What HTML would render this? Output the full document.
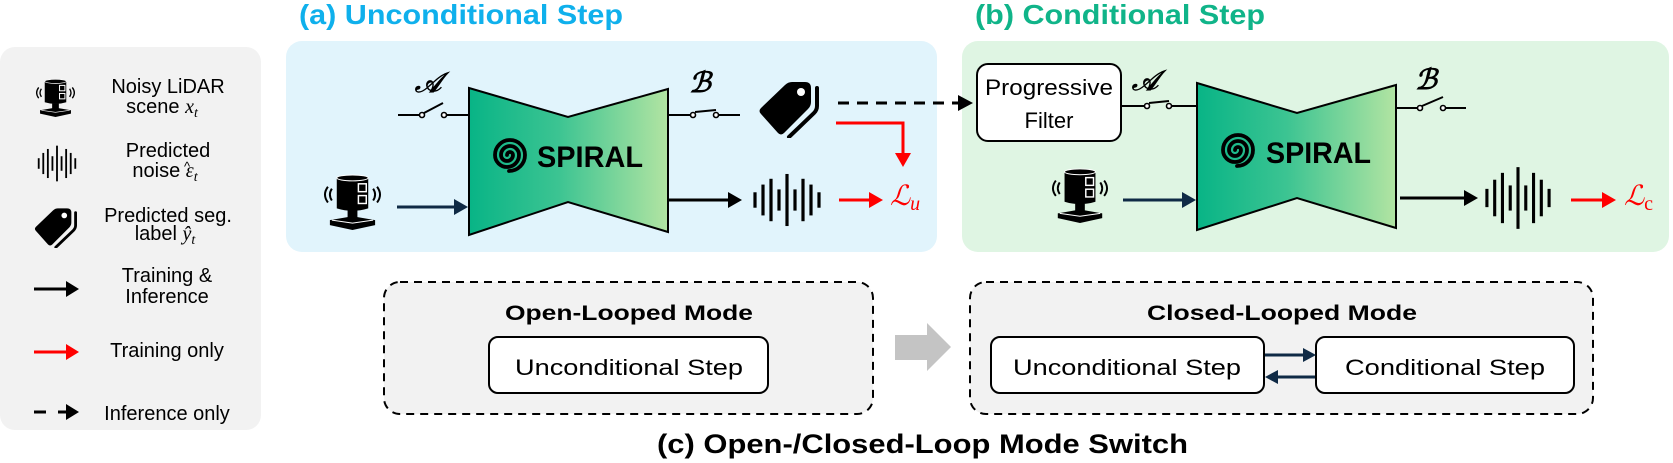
<!DOCTYPE html>
<html><head><meta charset="utf-8"><style>
html,body{margin:0;padding:0;background:#fff;}
svg{display:block;}
text{font-family:"Liberation Sans",sans-serif;}
.m{font-family:"Liberation Serif","DejaVu Serif",serif;font-style:italic;}
</style></head><body>
<svg width="1673" height="463" viewBox="0 0 1673 463" xmlns="http://www.w3.org/2000/svg">
<defs>
<linearGradient id="g" x1="0" y1="0" x2="1" y2="0">
<stop offset="0" stop-color="#08b486"/><stop offset="0.45" stop-color="#3cc492"/><stop offset="1" stop-color="#b2e4a2"/>
</linearGradient>
<symbol id="lidar" viewBox="0 0 66 58">
<path d="M8,14 Q2,22 8,30" fill="none" stroke="#000" stroke-width="2"/>
<path d="M12,16 Q8,22 12,28" fill="none" stroke="#000" stroke-width="2"/>
<path d="M58,14 Q64,22 58,30" fill="none" stroke="#000" stroke-width="2"/>
<path d="M54,16 Q58,22 54,28" fill="none" stroke="#000" stroke-width="2"/>
<path d="M17,5 Q33,-1 49,5 L49,36 Q33,41 17,36 Z" fill="#000"/>
<ellipse cx="33" cy="5" rx="16" ry="3" fill="#000" stroke="#fff" stroke-width="1"/>
<rect x="39" y="11" width="8" height="8" fill="none" stroke="#fff" stroke-width="1.5"/>
<rect x="39" y="23" width="8" height="8" fill="none" stroke="#fff" stroke-width="1.5"/>
<rect x="28" y="38" width="10" height="8" fill="#000"/>
<path d="M10,48 L33,44 L56,48 L56,53 L33,58 L10,53 Z" fill="#000"/>
<path d="M12,48 L33,51 L54,48" fill="none" stroke="#fff" stroke-width="1"/>
</symbol>
<symbol id="noise" viewBox="0 0 70 56" preserveAspectRatio="none">
<g stroke="#000" stroke-width="3.2">
<line x1="3" y1="20" x2="3" y2="36"/><line x1="11" y1="12" x2="11" y2="44"/><line x1="19" y1="6" x2="19" y2="50"/>
<line x1="27" y1="17" x2="27" y2="39"/><line x1="35" y1="1" x2="35" y2="55"/><line x1="43" y1="17" x2="43" y2="39"/>
<line x1="51" y1="6" x2="51" y2="50"/><line x1="59" y1="12" x2="59" y2="44"/><line x1="67" y1="20" x2="67" y2="36"/>
</g></symbol>
<symbol id="tag" viewBox="0 0 66 58">
<path d="M4,34 Q1,31 4,28 L28,5 Q31,2 35,2 L48,2 Q54,2 54,8 L54,22 Q54,26 51,29 L27,53 Q24,56 21,53 Z" fill="#000"/>
<circle cx="44" cy="12" r="4" fill="#fff"/>
<path d="M60,8 L60,26 Q60,30 57,33 L32,57" fill="none" stroke="#000" stroke-width="4" stroke-linecap="round"/>
</symbol>
<symbol id="spiral" viewBox="-22 -22 44 44">
<path d="M0,0 a3,3 0 0 1 6,0 a6,6 0 0 1 -12,0 a9,9 0 0 1 18,0 a12,12 0 0 1 -24,0 a15,15 0 0 1 30,0 a16,16 0 0 1 -16,16" fill="none" stroke="#000" stroke-width="3.8" stroke-linecap="round"/>
</symbol>
</defs>

<rect x="0" y="47" width="261" height="383" rx="15" fill="#f2f2f2"/>
<use href="#lidar" x="33" y="78" width="45" height="39"/>
<use href="#noise" x="37" y="145" width="40" height="37"/>
<use href="#tag" x="33" y="207" width="47" height="41"/>
<g font-size="20" text-anchor="middle" fill="#000">
<text x="168" y="93">Noisy LiDAR</text>
<text x="162" y="113">scene <tspan class="m">x</tspan><tspan class="m" font-size="14" dy="4">t</tspan></text>
<text x="168" y="157">Predicted</text>
<text x="165" y="177">noise <tspan class="m">ε</tspan><tspan class="m" font-size="14" dy="4">t</tspan></text>
<text x="168" y="222">Predicted seg.</text>
<text x="165" y="240">label <tspan class="m">ŷ</tspan><tspan class="m" font-size="14" dy="4">t</tspan></text>
<text x="167" y="282">Training &amp;</text>
<text x="167" y="303">Inference</text>
<text x="167" y="357">Training only</text>
<text x="167" y="420">Inference only</text>
</g>
<text x="184" y="171" font-size="13" fill="#000">^</text>
<line x1="34" y1="289" x2="68" y2="289" stroke="#000" stroke-width="3"/><path d="M66,281 L79,289 L66,297 Z" fill="#000"/>
<line x1="34" y1="352" x2="68" y2="352" stroke="#ff0000" stroke-width="3"/><path d="M66,344 L79,352 L66,360 Z" fill="#ff0000"/>
<line x1="34" y1="412" x2="46" y2="412" stroke="#000" stroke-width="3"/><line x1="58" y1="412" x2="68" y2="412" stroke="#000" stroke-width="3"/><path d="M66,404 L79,412 L66,420 Z" fill="#000"/>

<text x="299" y="24" font-size="28" font-weight="bold" fill="#0fb0ec" textLength="324" lengthAdjust="spacingAndGlyphs">(a) Unconditional Step</text>
<text x="975" y="24" font-size="28" font-weight="bold" fill="#10b489" textLength="290" lengthAdjust="spacingAndGlyphs">(b) Conditional Step</text>

<rect x="286" y="41" width="651" height="211" rx="16" fill="#e1f4fc"/>
<polygon points="469,88 568,117 668,89 668,232 568,202 469,235" fill="url(#g)" stroke="#000" stroke-width="2"/>
<use href="#spiral" x="485" y="133" width="44" height="44"/>
<text x="537" y="167" font-size="30" font-weight="bold" textLength="106" lengthAdjust="spacingAndGlyphs">SPIRAL</text>
<line x1="398" y1="115" x2="420" y2="115" stroke="#000" stroke-width="2"/>
<line x1="446" y1="115" x2="469" y2="115" stroke="#000" stroke-width="2"/>
<line x1="424" y1="113" x2="443" y2="103" stroke="#000" stroke-width="2"/>
<circle cx="422" cy="115" r="2.5" fill="#fff" stroke="#000" stroke-width="1.6"/>
<circle cx="444" cy="115" r="2.5" fill="#fff" stroke="#000" stroke-width="1.6"/>
<text x="428" y="92" class="m" font-size="28" font-weight="bold" text-anchor="middle">𝒜</text>
<line x1="668" y1="115" x2="691" y2="115" stroke="#000" stroke-width="2"/>
<line x1="718" y1="115" x2="740" y2="115" stroke="#000" stroke-width="2"/>
<line x1="695" y1="112" x2="716" y2="110" stroke="#000" stroke-width="2"/>
<circle cx="693" cy="115" r="2.5" fill="#fff" stroke="#000" stroke-width="1.6"/>
<circle cx="716" cy="115" r="2.5" fill="#fff" stroke="#000" stroke-width="1.6"/>
<text x="700" y="92" class="m" font-size="28" font-weight="bold" text-anchor="middle">ℬ</text>
<use href="#tag" x="757" y="80" width="66" height="58"/>
<use href="#lidar" x="320" y="173" width="65" height="57"/>
<line x1="397" y1="207" x2="456" y2="207" stroke="#0f2a45" stroke-width="3"/><path d="M454,199 L468,207 L454,215 Z" fill="#0f2a45"/>
<line x1="668" y1="200" x2="730" y2="200" stroke="#000" stroke-width="3"/><path d="M728,192 L742,200 L728,208 Z" fill="#000"/>
<use href="#noise" x="752" y="173" width="70" height="54"/>
<polyline points="836,123 903,123 903,155" fill="none" stroke="#ff0000" stroke-width="3"/>
<path d="M895,153 L903,167 L911,153 Z" fill="#ff0000"/>
<line x1="839" y1="200" x2="871" y2="200" stroke="#ff0000" stroke-width="3"/><path d="M869,192 L883,200 L869,208 Z" fill="#ff0000"/>
<text x="890" y="205" class="m" font-size="28" fill="#ff0000">ℒ<tspan font-size="20" dy="5">u</tspan></text>

<rect x="962" y="41" width="707" height="211" rx="16" fill="#dff5e3"/>
<line x1="838" y1="103" x2="962" y2="103" stroke="#000" stroke-width="3" stroke-dasharray="11,8"/>
<path d="M958,95 L973,103 L958,111 Z" fill="#000"/>
<rect x="977" y="64" width="144" height="77" rx="11" fill="#fff" stroke="#000" stroke-width="2"/>
<text x="1049" y="95" font-size="22" text-anchor="middle" textLength="128" lengthAdjust="spacingAndGlyphs">Progressive</text>
<text x="1049" y="128" font-size="22" text-anchor="middle">Filter</text>
<line x1="1121" y1="106" x2="1145" y2="106" stroke="#000" stroke-width="2"/>
<line x1="1171" y1="106" x2="1197" y2="106" stroke="#000" stroke-width="2"/>
<line x1="1149" y1="103" x2="1169" y2="101" stroke="#000" stroke-width="2"/>
<circle cx="1147" cy="106" r="2.5" fill="#fff" stroke="#000" stroke-width="1.6"/>
<circle cx="1169" cy="106" r="2.5" fill="#fff" stroke="#000" stroke-width="1.6"/>
<text x="1145" y="90" class="m" font-size="28" font-weight="bold" text-anchor="middle">𝒜</text>
<polygon points="1197,83 1297,113 1396,85 1396,228 1297,198 1197,230" fill="url(#g)" stroke="#000" stroke-width="2"/>
<use href="#spiral" x="1213" y="128" width="44" height="44"/>
<text x="1266" y="163" font-size="30" font-weight="bold" textLength="105" lengthAdjust="spacingAndGlyphs">SPIRAL</text>
<line x1="1396" y1="108" x2="1418" y2="108" stroke="#000" stroke-width="2"/>
<line x1="1445" y1="108" x2="1466" y2="108" stroke="#000" stroke-width="2"/>
<line x1="1422" y1="106" x2="1443" y2="97" stroke="#000" stroke-width="2"/>
<circle cx="1420" cy="108" r="2.5" fill="#fff" stroke="#000" stroke-width="1.6"/>
<circle cx="1443" cy="108" r="2.5" fill="#fff" stroke="#000" stroke-width="1.6"/>
<text x="1426" y="89" class="m" font-size="28" font-weight="bold" text-anchor="middle">ℬ</text>
<use href="#lidar" x="1048" y="167" width="64" height="56"/>
<line x1="1123" y1="200" x2="1184" y2="200" stroke="#0f2a45" stroke-width="3"/><path d="M1182,192 L1196,200 L1182,208 Z" fill="#0f2a45"/>
<line x1="1400" y1="198" x2="1466" y2="198" stroke="#000" stroke-width="3"/><path d="M1464,190 L1478,198 L1464,206 Z" fill="#000"/>
<use href="#noise" x="1484" y="166" width="68" height="64"/>
<line x1="1571" y1="200" x2="1604" y2="200" stroke="#ff0000" stroke-width="3"/><path d="M1602,192 L1616,200 L1602,208 Z" fill="#ff0000"/>
<text x="1624" y="205" class="m" font-size="28" fill="#ff0000">ℒ<tspan font-size="20" dy="5" font-style="normal">c</tspan></text>

<rect x="384" y="282" width="489" height="132" rx="16" fill="#f2f2f2" stroke="#000" stroke-width="2" stroke-dasharray="8,6"/>
<text x="629" y="320" font-size="21" font-weight="bold" text-anchor="middle" textLength="248" lengthAdjust="spacingAndGlyphs">Open-Looped Mode</text>
<rect x="489" y="337" width="279" height="56" rx="9" fill="#fff" stroke="#000" stroke-width="2"/>
<text x="629" y="375" font-size="22" text-anchor="middle" textLength="228" lengthAdjust="spacingAndGlyphs">Unconditional Step</text>
<path d="M895,335 L927,335 L927,323 L951,347 L927,371 L927,360 L895,360 Z" fill="#c4c4c4"/>
<rect x="970" y="282" width="623" height="132" rx="16" fill="#f2f2f2" stroke="#000" stroke-width="2" stroke-dasharray="8,6"/>
<text x="1282" y="320" font-size="21" font-weight="bold" text-anchor="middle" textLength="270" lengthAdjust="spacingAndGlyphs">Closed-Looped Mode</text>
<rect x="991" y="337" width="273" height="56" rx="9" fill="#fff" stroke="#000" stroke-width="2"/>
<text x="1127" y="375" font-size="22" text-anchor="middle" textLength="228" lengthAdjust="spacingAndGlyphs">Unconditional Step</text>
<rect x="1316" y="337" width="258" height="56" rx="9" fill="#fff" stroke="#000" stroke-width="2"/>
<text x="1445" y="375" font-size="22" text-anchor="middle" textLength="200" lengthAdjust="spacingAndGlyphs">Conditional Step</text>
<line x1="1265" y1="355" x2="1305" y2="355" stroke="#0f2a45" stroke-width="3"/><path d="M1303,348 L1316,355 L1303,362 Z" fill="#0f2a45"/>
<line x1="1315" y1="377" x2="1276" y2="377" stroke="#0f2a45" stroke-width="3"/><path d="M1278,370 L1265,377 L1278,384 Z" fill="#0f2a45"/>
<text x="657" y="453" font-size="27" font-weight="bold" textLength="531" lengthAdjust="spacingAndGlyphs">(c) Open-/Closed-Loop Mode Switch</text>
</svg>
</body></html>
